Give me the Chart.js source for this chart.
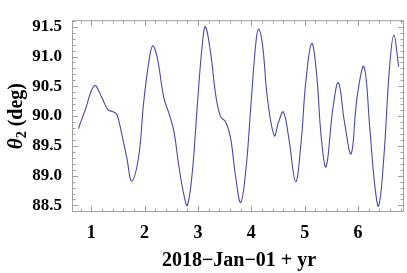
<!DOCTYPE html>
<html lang="en">
<head>
    <meta charset="UTF-8">
    <title>theta2 vs time</title>
    <style>
        html, body {
            margin: 0;
            padding: 0;
            background: #fff;
        }

        .chart-box {
            width: 407px;
            height: 273px;
        }
    </style>
    <script src="https://cdn.jsdelivr.net/npm/chart.js"></script>
</head>
<body>
    <div class="chart-box">
        <canvas id="thetaChart" width="407" height="273"></canvas>
    </div>

    <script>
        // years after 2018-Jan-01
        const years = [0.76, 0.89, 1.06, 1.20, 1.31, 1.42, 1.48, 1.575, 1.67, 1.76, 1.89, 1.98, 2.075, 2.15, 2.235,
            2.36, 2.455, 2.55, 2.64, 2.74, 2.80, 2.89, 2.99, 3.08, 3.14, 3.24, 3.33, 3.42, 3.52, 3.61, 3.70,
            3.80, 3.90, 3.99, 4.08, 4.135, 4.21, 4.30, 4.43, 4.51, 4.60, 4.70, 4.83, 4.93, 5.02, 5.13, 5.22,
            5.31, 5.40, 5.525, 5.63, 5.745, 5.87, 5.98, 6.11, 6.22, 6.31, 6.385, 6.48, 6.59, 6.67, 6.76];
        const theta2 = [89.79, 90.11, 90.51, 90.31, 90.11, 90.07, 90.03, 89.69, 89.28, 88.91, 89.33, 90.21, 90.88, 91.18, 90.99,
            90.31, 90.05, 89.74, 89.17, 88.66, 88.50, 89.02, 90.21, 91.19, 91.50, 91.04, 90.37, 90.00, 89.90, 89.64, 89.02,
            88.55, 89.12, 90.16, 91.19, 91.46, 91.19, 90.31, 89.67, 89.90, 90.07, 89.64, 88.90, 89.54, 90.57, 91.22, 90.73,
            89.64, 89.15, 90.11, 90.56, 89.90, 89.37, 90.31, 90.83, 89.79, 88.86, 88.49, 89.28, 90.83, 91.36, 90.83];

        const xTicks = [1, 2, 3, 4, 5, 6];
        const yTicks = [88.5, 89.0, 89.5, 90.0, 90.5, 91.0, 91.5];
        const xMinorStep = 0.2;
        const yMinorStep = 0.1;

        const serif = '"Liberation Serif", "DejaVu Serif", serif';
        const titleFont = 'bold 20px ' + serif;

        // Mathematica-style frame: ticks pointing in on all four sides, plus axis titles
        const framePlugin = {
            id: 'frame',
            afterDraw(chart) {
                const ctx = chart.ctx;
                const area = chart.chartArea;
                const xs = chart.scales.x;
                const ys = chart.scales.y;

                ctx.save();
                ctx.strokeStyle = '#a0a0a0';
                ctx.lineWidth = 1;
                ctx.strokeRect(area.left + 0.5, area.top + 0.5, area.right - area.left - 1, area.bottom - area.top - 1);

                ctx.beginPath();
                for (let v = Math.ceil(xs.min / xMinorStep) * xMinorStep; v <= xs.max; v += xMinorStep) {
                    const major = Math.abs(v - Math.round(v)) < 1e-6;
                    const len = major ? 6 : 3.5;
                    const px = Math.round(xs.getPixelForValue(v)) + 0.5;
                    ctx.moveTo(px, area.bottom);
                    ctx.lineTo(px, area.bottom - len);
                    ctx.moveTo(px, area.top);
                    ctx.lineTo(px, area.top + len);
                }
                for (let v = Math.ceil(ys.min / yMinorStep) * yMinorStep; v <= ys.max; v += yMinorStep) {
                    const major = Math.abs(v * 2 - Math.round(v * 2)) < 1e-6;
                    const len = major ? 6 : 3.5;
                    const py = Math.round(ys.getPixelForValue(v)) + 0.5;
                    ctx.moveTo(area.left, py);
                    ctx.lineTo(area.left + len, py);
                    ctx.moveTo(area.right, py);
                    ctx.lineTo(area.right - len, py);
                }
                ctx.stroke();

                // x title
                ctx.fillStyle = '#000';
                ctx.font = titleFont;
                ctx.textAlign = 'center';
                ctx.textBaseline = 'alphabetic';
                ctx.fillText('2018\u2212Jan\u221201 + yr', 239, 266);

                // y title with italic theta and subscript
                ctx.translate(22, (area.top + area.bottom) / 2);
                ctx.rotate(-Math.PI / 2);
                const italic = 'bold italic 21px ' + serif;
                const sub = 'bold 14px ' + serif;
                const rest = ' (deg)';
                ctx.font = italic;
                const w1 = ctx.measureText('\u03b8').width;
                ctx.font = sub;
                const w2 = ctx.measureText('2').width;
                ctx.font = titleFont;
                const w3 = ctx.measureText(rest).width;
                let x0 = -(w1 + w2 + w3) / 2;
                ctx.textAlign = 'left';
                ctx.font = italic;
                ctx.fillText('\u03b8', x0, 0);
                x0 += w1;
                ctx.font = sub;
                ctx.fillText('2', x0, 4);
                x0 += w2;
                ctx.font = titleFont;
                ctx.fillText(rest, x0, 0);
                ctx.restore();
            }
        };

        new Chart(document.getElementById('thetaChart'), {
            type: 'line',
            data: {
                labels: years,
                datasets: [{
                    data: years.map((x, i) => ({ x: x, y: theta2[i] })),
                    borderColor: '#4a4aa8',
                    borderWidth: 1.1,
                    pointRadius: 0,
                    fill: false,
                    tension: 0.4
                }]
            },
            options: {
                responsive: false,
                animation: false,
                devicePixelRatio: 1,
                layout: {
                    padding: { top: 5, right: 3, left: 0, bottom: 0 }
                },
                plugins: {
                    legend: { display: false },
                    tooltip: { enabled: false }
                },
                scales: {
                    x: {
                        type: 'linear',
                        min: 0.64,
                        max: 6.86,
                        afterBuildTicks: (scale) => {
                            scale.ticks = xTicks.map(v => ({ value: v }));
                        },
                        afterFit: (scale) => {
                            scale.height = 61;
                        },
                        grid: { display: false, drawTicks: false },
                        border: { display: false },
                        ticks: {
                            color: '#000',
                            padding: 11,
                            maxRotation: 0,
                            font: { family: serif, size: 18, weight: 'bold' },
                            callback: (v) => String(v)
                        }
                    },
                    y: {
                        min: 88.39,
                        max: 91.61,
                        afterBuildTicks: (scale) => {
                            scale.ticks = yTicks.map(v => ({ value: v }));
                        },
                        afterFit: (scale) => {
                            scale.width = 72;
                        },
                        grid: { display: false, drawTicks: false },
                        border: { display: false },
                        ticks: {
                            color: '#000',
                            padding: 10,
                            font: { family: serif, size: 17, weight: 'bold' },
                            callback: (v) => v.toFixed(1)
                        }
                    }
                }
            },
            plugins: [framePlugin]
        });
    </script>
</body>
</html>
